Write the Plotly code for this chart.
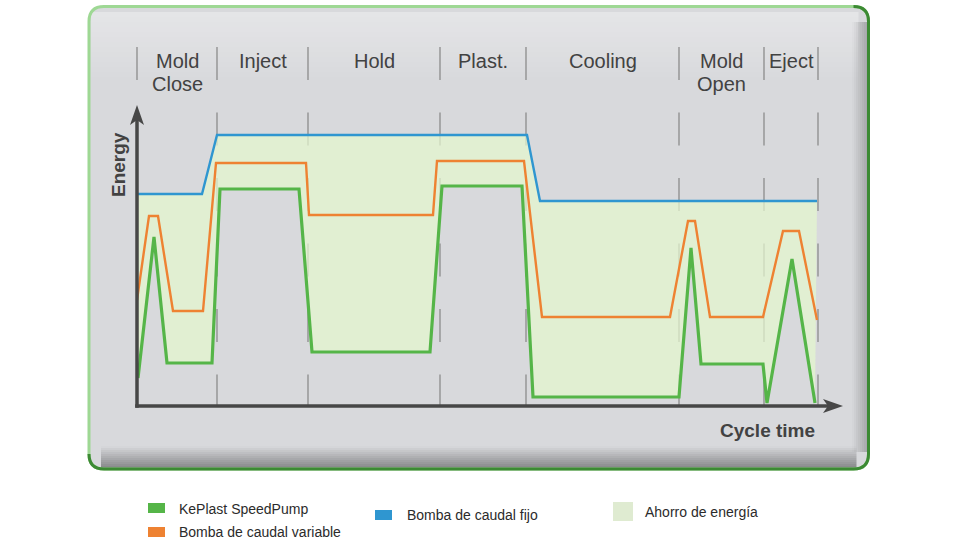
import plotly.graph_objects as go

# ---------------- data (time units, energy units) ----------------
phase_names = ["Mold\nClose", "Inject", "Hold", "Plast.", "Cooling", "Mold\nOpen", "Eject"]
phase_bounds = [0, 80, 171, 303, 389, 542, 627, 681]

speed_t = [1, 17, 30, 75, 83, 162, 175, 293, 305, 385, 396, 542, 554, 564, 626, 630, 655, 678]
speed_e = [28, 169, 43, 43, 217, 217, 54, 54, 220, 220, 9, 9, 158, 42, 42, 3, 147, 3]

variable_t = [0, 12, 21, 36, 66, 79, 169, 172, 296, 300, 387, 405, 533, 551, 558, 573, 626, 646, 662, 680]
variable_e = [106, 190, 190, 95, 95, 243, 243, 191, 191, 245, 245, 89, 89, 185, 185, 89, 89, 175, 175, 86]

fixed_t = [0, 65, 80, 390, 403, 680]
fixed_e = [212, 212, 271, 271, 205, 205]

legend_labels = ["KePlast SpeedPump", "Bomba de caudal variable", "Bomba de caudal fijo", "Ahorro de energía"]

# ---------------- styles ----------------
W, H = 980, 560
C_SPEED = "#55b548"
C_VAR = "#ee8232"
C_FIX = "#2f96d0"
C_SAVE_FILL = "rgba(228,246,206,0.72)"
C_SAVE_SW = "#dfebd1"
C_AXIS = "#474747"
C_TEXT = "#424242"
FONT = "Liberation Sans, Arial, sans-serif"

# axis mapping: 1 unit = 1 px ; origin at px (137, 406)
OX, OY = 137, 406
XR = [-OX, W - OX]
YR = [-(H - OY), OY]


def px(x):
    return x / W


def py(y):
    return 1 - y / H


fig = go.Figure()

# energy saving area: between fixed pump and SpeedPump
fill_x = list(fixed_t) + list(reversed(speed_t))
fill_y = list(fixed_e) + list(reversed(speed_e))
fig.add_trace(go.Scatter(x=fill_x, y=fill_y, fill="toself", fillcolor=C_SAVE_FILL,
                         line=dict(width=0), mode="lines", hoverinfo="skip", showlegend=False))

fig.add_trace(go.Scatter(x=fixed_t, y=fixed_e, mode="lines", line=dict(color=C_FIX, width=2.4),
                         name=legend_labels[2], showlegend=False))
fig.add_trace(go.Scatter(x=variable_t, y=variable_e, mode="lines", line=dict(color=C_VAR, width=2.4),
                         name=legend_labels[1], showlegend=False))
fig.add_trace(go.Scatter(x=speed_t, y=speed_e, mode="lines", line=dict(color=C_SPEED, width=3.2),
                         name=legend_labels[0], showlegend=False))

shapes = []

# ---- panel ----
L, T, R, B, RAD = 89, 6.5, 868.5, 469, 15


def rrect_path(l, t, r, b, rad):
    return (f"M {px(l+rad)},{py(t)} L {px(r-rad)},{py(t)} Q {px(r)},{py(t)} {px(r)},{py(t+rad)} "
            f"L {px(r)},{py(b-rad)} Q {px(r)},{py(b)} {px(r-rad)},{py(b)} "
            f"L {px(l+rad)},{py(b)} Q {px(l)},{py(b)} {px(l)},{py(b-rad)} "
            f"L {px(l)},{py(t+rad)} Q {px(l)},{py(t)} {px(l+rad)},{py(t)} Z")


shapes.append(dict(type="path", xref="paper", yref="paper", path=rrect_path(L, T, R, B, RAD),
                   fillcolor="#d8d9dc", line=dict(width=0), layer="below"))
# top highlight
n = 14
for i in range(n):
    y0 = 12 + i * 5
    shapes.append(dict(type="rect", xref="paper", yref="paper", x0=px(L + 2), x1=px(R - 10),
                       y0=py(y0), y1=py(y0 + 5), fillcolor="white",
                       opacity=0.32 * (1 - i / n), line=dict(width=0), layer="below"))
# right shadow
n = 8
for i in range(n):
    x0 = 852 + i * 2
    shapes.append(dict(type="rect", xref="paper", yref="paper", x0=px(x0), x1=px(x0 + 2),
                       y0=py(22), y1=py(452), fillcolor="black",
                       opacity=0.015 + 0.03 * i, line=dict(width=0), layer="below"))
# bottom shadow
n = 11
for i in range(n):
    y0 = 446 + i * 2
    shapes.append(dict(type="rect", xref="paper", yref="paper", x0=px(L + 12), x1=px(R - 12),
                       y0=py(y0), y1=py(y0 + 2), fillcolor="black",
                       opacity=0.012 + 0.035 * i, line=dict(width=0), layer="below"))
# border: light green all round, darker on right and bottom
shapes.append(dict(type="path", xref="paper", yref="paper", path=rrect_path(L, T, R, B, RAD),
                   fillcolor="rgba(0,0,0,0)", line=dict(color="#9ed894", width=3), layer="below"))
shapes.append(dict(type="path", xref="paper", yref="paper",
                   path=(f"M {px(R-RAD)},{py(T)} Q {px(R)},{py(T)} {px(R)},{py(T+RAD)} "
                         f"L {px(R)},{py(B-RAD)} Q {px(R)},{py(B)} {px(R-RAD)},{py(B)} "
                         f"L {px(L+RAD)},{py(B)} Q {px(L)},{py(B)} {px(L)},{py(B-RAD)}"),
                   fillcolor="rgba(0,0,0,0)", line=dict(color="#3c8a33", width=3), layer="below"))

# ---- phase dividers (dashed) ----
DIV_TOP = OY - 47
for b in phase_bounds:
    shapes.append(dict(type="line", xref="x", yref="y", x0=b, x1=b, y0=DIV_TOP, y1=0,
                       line=dict(color="#8c8c8c", width=1.3, dash="33px,32.5px"), layer="below"))

# ---- axes with arrowheads ----
Y_TIP = OY - 105
X_TIP = 843 - OX
HL, HW, NOTCH = 20, 7, 5
shapes.append(dict(type="line", xref="x", yref="y", x0=0, x1=0, y0=-1.8, y1=Y_TIP - HL + NOTCH + 1,
                   line=dict(color=C_AXIS, width=3.5), layer="above"))
shapes.append(dict(type="line", xref="x", yref="y", x0=-1.8, x1=X_TIP - HL + NOTCH + 1, y0=0, y1=0,
                   line=dict(color=C_AXIS, width=3.5), layer="above"))
shapes.append(dict(type="path", xref="x", yref="y",
                   path=f"M 0,{Y_TIP} L {HW},{Y_TIP-HL} L 0,{Y_TIP-HL+NOTCH} L {-HW},{Y_TIP-HL} Z",
                   fillcolor=C_AXIS, line=dict(width=0), layer="above"))
shapes.append(dict(type="path", xref="x", yref="y",
                   path=f"M {X_TIP},0 L {X_TIP-HL},{HW} L {X_TIP-HL+NOTCH},0 L {X_TIP-HL},{-HW} Z",
                   fillcolor=C_AXIS, line=dict(width=0), layer="above"))

annotations = []
# phase labels
LINE1_Y = OY - 61
LINE_GAP = 23
for i, name in enumerate(phase_names):
    xc = (phase_bounds[i] + phase_bounds[i + 1]) / 2
    for j, part in enumerate(name.split("\n")):
        annotations.append(dict(x=xc, y=LINE1_Y - j * LINE_GAP, xref="x", yref="y", text=part,
                                showarrow=False, xanchor="center", yanchor="middle",
                                font=dict(family=FONT, size=20, color=C_TEXT)))

annotations.append(dict(x=px(118), y=py(165), xref="paper", yref="paper", text="<b>Energy</b>",
                        textangle=-90, showarrow=False, xanchor="center", yanchor="middle",
                        font=dict(family=FONT, size=19, color=C_TEXT)))
annotations.append(dict(x=px(817), y=py(430), xref="paper", yref="paper", text="<b>Cycle time</b>",
                        showarrow=False, xanchor="right", yanchor="middle",
                        font=dict(family=FONT, size=19, color=C_TEXT)))

# ---- legend ----
legend_items = [
    (legend_labels[0], C_SPEED, (148, 503, 165, 513), (177, 509)),
    (legend_labels[1], C_VAR, (148, 527, 165, 537), (177, 532)),
    (legend_labels[2], C_FIX, (375, 510, 392, 520), (405, 515)),
    (legend_labels[3], C_SAVE_SW, (613, 502, 633, 521), (643, 512)),
]
for label, col, (x0, y0, x1, y1), (tx, ty) in legend_items:
    shapes.append(dict(type="rect", xref="paper", yref="paper", x0=px(x0), x1=px(x1),
                       y0=py(y0), y1=py(y1), fillcolor=col, line=dict(width=0)))
    annotations.append(dict(x=px(tx), y=py(ty), xref="paper", yref="paper", text=label,
                            showarrow=False, xanchor="left", yanchor="middle",
                            font=dict(family=FONT, size=14, color="#2b2b2b")))

fig.update_layout(
    width=W, height=H, margin=dict(l=0, r=0, t=0, b=0),
    paper_bgcolor="white", plot_bgcolor="rgba(0,0,0,0)",
    xaxis=dict(range=XR, visible=False, domain=[0, 1], fixedrange=True),
    yaxis=dict(range=YR, visible=False, domain=[0, 1], fixedrange=True),
    shapes=shapes, annotations=annotations, showlegend=False,
)

fig.write_html("out.html")
